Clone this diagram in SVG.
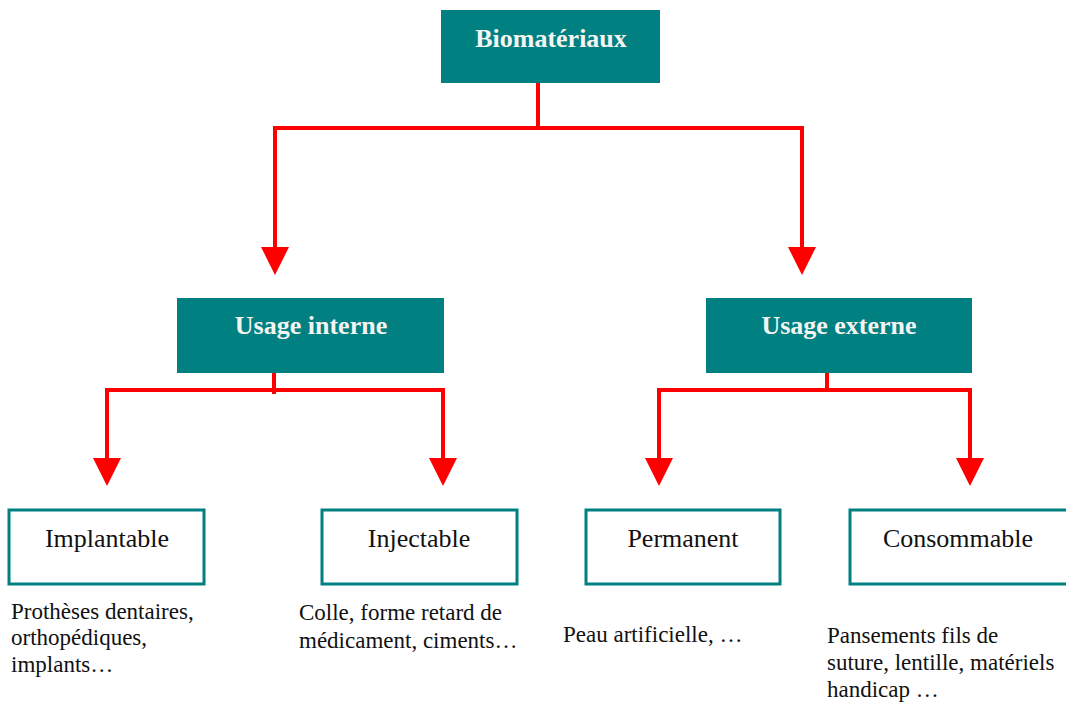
<svg xmlns="http://www.w3.org/2000/svg" width="1066" height="702" viewBox="0 0 1066 702">
<style>
.top{fill:#008080;stroke:none}
.leaf{fill:#ffffff;stroke:#008080;stroke-width:3}
text{font-family:'Liberation Serif','Times New Roman',Tinos,'DejaVu Serif','Noto Serif',serif}
.tt{font-weight:bold;font-size:26px;fill:#f4f4f4;text-anchor:middle}
.lt{font-size:26px;fill:#111;text-anchor:middle}
.dt{font-size:23px;fill:#111}
.c{fill:none;stroke:#ff0000;stroke-width:4}
.a{marker-end:url(#ah)}
</style>
<defs>
<marker id="ah" markerUnits="userSpaceOnUse" markerWidth="28" markerHeight="28" viewBox="0 0 28 28" refX="0" refY="14" orient="auto">
<path d="M0,0 L28,14 L0,28 z" fill="#ff0000"/>
</marker>
</defs>
<rect width="1066" height="702" fill="#ffffff"/>
<g id="connectors">
<path class="c" d="M538,83 V128 M273,128 H804"/>
<path class="c a" d="M275,128 V247"/>
<path class="c a" d="M802,128 V247"/>
<path class="c" d="M274,373 V394 M105,390 H445"/>
<path class="c a" d="M107,390 V458"/>
<path class="c a" d="M443,390 V458"/>
<path class="c" d="M827,373 V390 M657,390 H972"/>
<path class="c a" d="M659,390 V458"/>
<path class="c a" d="M970,390 V458"/>
</g>
<g id="biomateriaux">
<rect class="top" x="441" y="10" width="219" height="73"/>
<text class="tt" x="551" y="47" font-family="Liberation Serif, serif">Biomatériaux</text>
</g>
<g id="usage-interne">
<rect class="top" x="177" y="298" width="267" height="75"/>
<text class="tt" x="311" y="334">Usage interne</text>
</g>
<g id="usage-externe">
<rect class="top" x="706" y="298" width="266" height="75"/>
<text class="tt" x="839" y="334">Usage externe</text>
</g>
<g id="implantable">
<rect class="leaf" x="9" y="510" width="195" height="74"/>
<text class="lt" x="107" y="547">Implantable</text>
<text class="dt" x="11" y="619">Prothèses dentaires,</text>
<text class="dt" x="11" y="645">orthopédiques,</text>
<text class="dt" x="11" y="672">implants…</text>
</g>
<g id="injectable">
<rect class="leaf" x="322" y="510" width="195" height="74"/>
<text class="lt" x="419" y="547">Injectable</text>
<text class="dt" x="299" y="620">Colle, forme retard de</text>
<text class="dt" x="299" y="648">médicament, ciments…</text>
</g>
<g id="permanent">
<rect class="leaf" x="586" y="510" width="194" height="74"/>
<text class="lt" x="683" y="547">Permanent</text>
<text class="dt" x="563" y="642">Peau artificielle, …</text>
</g>
<g id="consommable">
<rect class="leaf" x="850" y="510" width="220" height="74"/>
<text class="lt" x="958" y="547">Consommable</text>
<text class="dt" x="827" y="643">Pansements fils de</text>
<text class="dt" x="827" y="670">suture, lentille, matériels</text>
<text class="dt" x="827" y="697">handicap …</text>
</g>
</svg>
